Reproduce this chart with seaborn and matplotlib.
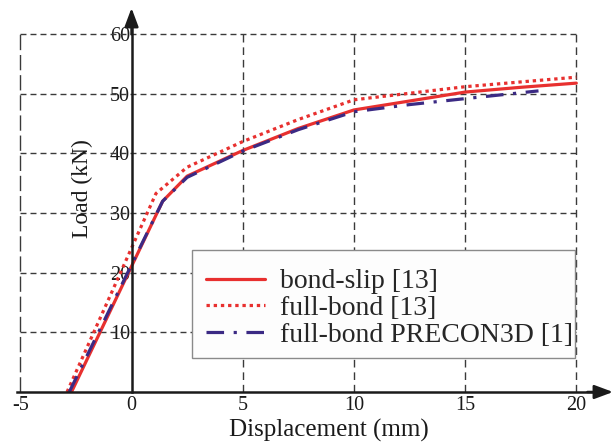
import matplotlib
matplotlib.use("Agg")
import matplotlib.pyplot as plt
from matplotlib.patches import Rectangle
import pandas as pd
import seaborn as sns

sns.set_theme(style="white")
plt.rcParams["font.family"] = ["Liberation Serif", "DejaVu Serif"]
plt.rcParams["axes.unicode_minus"] = False

# values
bond_slip_x = [-2.7, 1.4, 2.5, 5.0, 7.5, 10.0, 12.5, 15.0, 17.5, 20.0]
bond_slip_y = [0.0, 32.0, 36.2, 40.5, 44.2, 47.3, 48.8, 50.3, 51.1, 51.8]

full_bond_x = [-2.9, 1.1, 2.5, 5.0, 7.5, 10.0, 12.5, 15.0, 17.5, 20.0]
full_bond_y = [0.0, 33.3, 37.7, 42.0, 45.7, 49.0, 50.1, 51.2, 52.0, 52.8]

precon_x = [-2.8, 1.4, 2.5, 5.0, 7.5, 10.0, 12.5, 15.0, 18.3]
precon_y = [0.0, 32.0, 36.0, 40.4, 44.0, 47.0, 48.2, 49.2, 50.5]

names = ["bond-slip [13]", "full-bond [13]", "full-bond PRECON3D [1]"]
x_ticks = [-5, 0, 5, 10, 15, 20]
y_ticks = [10, 20, 30, 40, 50, 60]
x_grid = [5, 10, 15, 20]

df = pd.concat([
    pd.DataFrame({"disp": bond_slip_x, "load": bond_slip_y, "model": names[0]}),
    pd.DataFrame({"disp": full_bond_x, "load": full_bond_y, "model": names[1]}),
    pd.DataFrame({"disp": precon_x, "load": precon_y, "model": names[2]}),
], ignore_index=True)

red = "#e8302f"
navy = "#3b2a84"
palette = {names[0]: red, names[1]: red, names[2]: navy}
dashes = {names[0]: "", names[1]: (1.05, 1.2), names[2]: (5.5, 3, 1, 3)}

fig = plt.figure(figsize=(6.16, 4.43), dpi=100)
ax = fig.add_axes([17 / 616, 51 / 443, 596 / 616, 384 / 443])
ax.set_xlim(-5.15, 21.65)
ax.set_ylim(0, 64.4)

# dashed grid box
gcol = "#3a3a3a"
ax.hlines(y_ticks, -5, 20, colors=gcol, lw=1.0, linestyles=[(0, (4.3, 2.9))], zorder=1)
ax.vlines(x_grid, 0, 60, colors=gcol, lw=1.0, linestyles=[(0, (5.5, 3.5))], zorder=1)
ax.vlines([-5], 0, 60, colors=gcol, lw=1.0, linestyles=[(0, (11, 3.5))], zorder=1)

sns.lineplot(data=df, x="disp", y="load", hue="model", style="model",
             palette=palette, dashes=dashes, hue_order=names, style_order=names,
             estimator=None, sort=False, lw=2.3, ax=ax, zorder=3)

# axes through the origin with arrow heads
for side in ["top", "right"]:
    ax.spines[side].set_visible(False)
ax.spines["left"].set_position(("data", 0))
ax.spines["bottom"].set_position(("data", 0))
for side in ["left", "bottom"]:
    ax.spines[side].set_linewidth(1.8)
    ax.spines[side].set_color("k")
    ax.spines[side].set_zorder(4)
ax.spines["left"].set_bounds(0, 62)
ax.spines["bottom"].set_bounds(-5.15, 21)
arrow = dict(arrowstyle="-|>,head_length=0.75,head_width=0.28", color="k",
             lw=1.8, shrinkA=0, shrinkB=0, mutation_scale=15)
ax.annotate("", xy=(0, 64.4), xytext=(0, 60), arrowprops=arrow, annotation_clip=False)
ax.annotate("", xy=(21.65, 0), xytext=(20.5, 0), arrowprops=arrow, annotation_clip=False)

ax.set_xticks(x_ticks)
ax.set_yticks(y_ticks)
ax.tick_params(axis="x", length=0, pad=3, labelsize=14.5, colors="k")
ax.tick_params(axis="y", length=0, pad=1, labelsize=14.5, colors="k")
ax.set_xlabel("")
ax.set_ylabel("")
ax.text(0.523, -0.1, "Displacement (mm)", transform=ax.transAxes,
        ha="center", va="center", fontsize=18, color="k")
ax.text(0.109, 0.529, "Load (kN)", transform=ax.transAxes, rotation=90,
        ha="center", va="center", fontsize=17, color="k")

# legend box (uneven padding, so drawn separately)
ax.add_patch(Rectangle((0.2936, 0.0885), 0.936 - 0.2936, 0.3698 - 0.0885,
                       transform=ax.transAxes, facecolor="#fdfdfd",
                       edgecolor="#8a8a8a", lw=1.0, zorder=4.5))
handles, labels = ax.get_legend_handles_labels()
leg = ax.legend(handles, labels, loc="center", bbox_to_anchor=(0.625, 0.2175),
                borderaxespad=0, fontsize=20, frameon=False,
                handlelength=2.1, handletextpad=0.55, labelspacing=0.05, borderpad=0)
leg.set_zorder(5)
for line in leg.get_lines():
    line.set_linewidth(2.3)

fig.savefig("out.png", dpi=100)
